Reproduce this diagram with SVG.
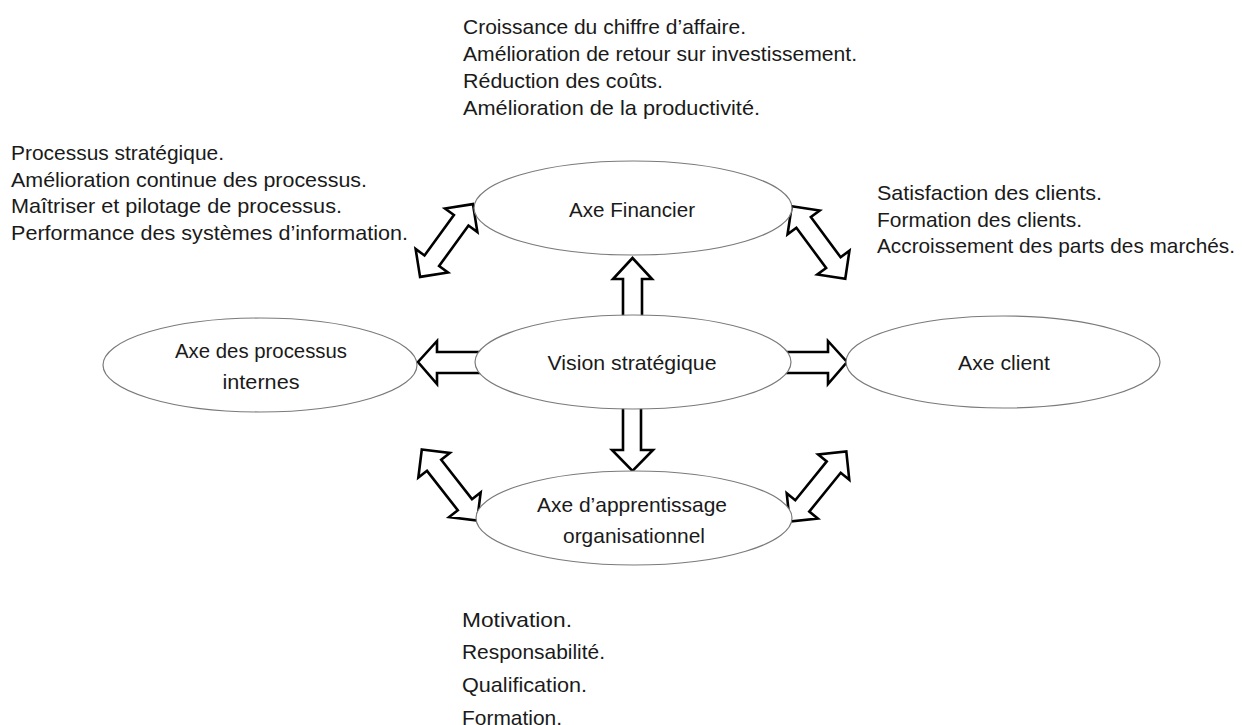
<svg xmlns="http://www.w3.org/2000/svg" width="1242" height="725" viewBox="0 0 1242 725">
  <style>
    .node { fill: #ffffff; stroke: #7a7a7a; stroke-width: 1.2; }
    .arrow { fill: #ffffff; stroke: #000000; stroke-width: 2.6; stroke-linejoin: miter; }
    .lbl { font-family: "Liberation Sans", Arial, sans-serif; font-size: 21px; fill: #1a1a1a; }
    .mid { text-anchor: middle; }
  </style>
  <defs>
    <polygon id="dbl" points="-45,0 -25,-20 -25,-9 25,-9 25,-20 45,0 25,20 25,9 -25,9 -25,20"/>
  </defs>
  <rect width="1242" height="725" fill="#ffffff"/>

  <g id="connectors">
    <polygon class="arrow" points="623,318 623,279 613,279 632.5,258 652,279 642,279 642,318"/>
    <polygon class="arrow" points="623,404 623,450 612,450 632.5,471 653,450 641,450 641,404"/>
    <polygon class="arrow" points="480,352 437,352 437,341 418,362 437,384 437,373 480,373"/>
    <polygon class="arrow" points="786,352 828,352 828,341 847,362 828,384 828,373 786,373"/>
    <use href="#dbl" class="arrow" transform="translate(446.5,240.5) rotate(-54)"/>
    <use href="#dbl" class="arrow" transform="translate(818.5,242.5) rotate(53.5)"/>
    <use href="#dbl" class="arrow" transform="translate(449.5,485) rotate(52)"/>
    <use href="#dbl" class="arrow" transform="translate(818,486.5) rotate(-51)"/>
  </g>

  <g id="axe-financier">
    <ellipse class="node" cx="633" cy="208" rx="159" ry="47"/>
    <text class="lbl mid" x="632" y="217" textLength="126" lengthAdjust="spacingAndGlyphs">Axe Financier</text>
  </g>
  <g id="vision-strategique">
    <ellipse class="node" cx="633" cy="362" rx="158" ry="47"/>
    <text class="lbl mid" x="632" y="370" textLength="169" lengthAdjust="spacingAndGlyphs">Vision stratégique</text>
  </g>
  <g id="axe-processus">
    <ellipse class="node" cx="260" cy="365" rx="157" ry="47"/>
    <text class="lbl mid" x="261" y="358" textLength="172" lengthAdjust="spacingAndGlyphs">Axe des processus</text>
    <text class="lbl mid" x="261" y="389" textLength="77" lengthAdjust="spacingAndGlyphs">internes</text>
  </g>
  <g id="axe-client">
    <ellipse class="node" cx="1003" cy="362" rx="157" ry="46"/>
    <text class="lbl mid" x="1004" y="370" textLength="92" lengthAdjust="spacingAndGlyphs">Axe client</text>
  </g>
  <g id="axe-apprentissage">
    <ellipse class="node" cx="634" cy="518" rx="158" ry="47"/>
    <text class="lbl mid" x="632" y="512" textLength="190" lengthAdjust="spacingAndGlyphs">Axe d’apprentissage</text>
    <text class="lbl mid" x="634" y="543" textLength="142" lengthAdjust="spacingAndGlyphs">organisationnel</text>
  </g>

  <g id="text-financier">
    <text class="lbl" x="463" y="34" textLength="283" lengthAdjust="spacingAndGlyphs">Croissance du chiffre d’affaire.</text>
    <text class="lbl" x="463" y="61" textLength="394" lengthAdjust="spacingAndGlyphs">Amélioration de retour sur investissement.</text>
    <text class="lbl" x="463" y="88" textLength="200" lengthAdjust="spacingAndGlyphs">Réduction des coûts.</text>
    <text class="lbl" x="463" y="115" textLength="297" lengthAdjust="spacingAndGlyphs">Amélioration de la productivité.</text>
  </g>
  <g id="text-processus">
    <text class="lbl" x="11" y="160" textLength="213" lengthAdjust="spacingAndGlyphs">Processus stratégique.</text>
    <text class="lbl" x="11" y="187" textLength="356" lengthAdjust="spacingAndGlyphs">Amélioration continue des processus.</text>
    <text class="lbl" x="11" y="213" textLength="331" lengthAdjust="spacingAndGlyphs">Maîtriser et pilotage de processus.</text>
    <text class="lbl" x="11" y="240" textLength="397" lengthAdjust="spacingAndGlyphs">Performance des systèmes d’information.</text>
  </g>
  <g id="text-client">
    <text class="lbl" x="877" y="200" textLength="225" lengthAdjust="spacingAndGlyphs">Satisfaction des clients.</text>
    <text class="lbl" x="877" y="227" textLength="205" lengthAdjust="spacingAndGlyphs">Formation des clients.</text>
    <text class="lbl" x="877" y="253" textLength="358" lengthAdjust="spacingAndGlyphs">Accroissement des parts des marchés.</text>
  </g>
  <g id="text-apprentissage">
    <text class="lbl" x="462" y="627" textLength="110" lengthAdjust="spacingAndGlyphs">Motivation.</text>
    <text class="lbl" x="462" y="659" textLength="143" lengthAdjust="spacingAndGlyphs">Responsabilité.</text>
    <text class="lbl" x="462" y="692" textLength="125" lengthAdjust="spacingAndGlyphs">Qualification.</text>
    <text class="lbl" x="462" y="725" textLength="100" lengthAdjust="spacingAndGlyphs">Formation.</text>
  </g>
</svg>
